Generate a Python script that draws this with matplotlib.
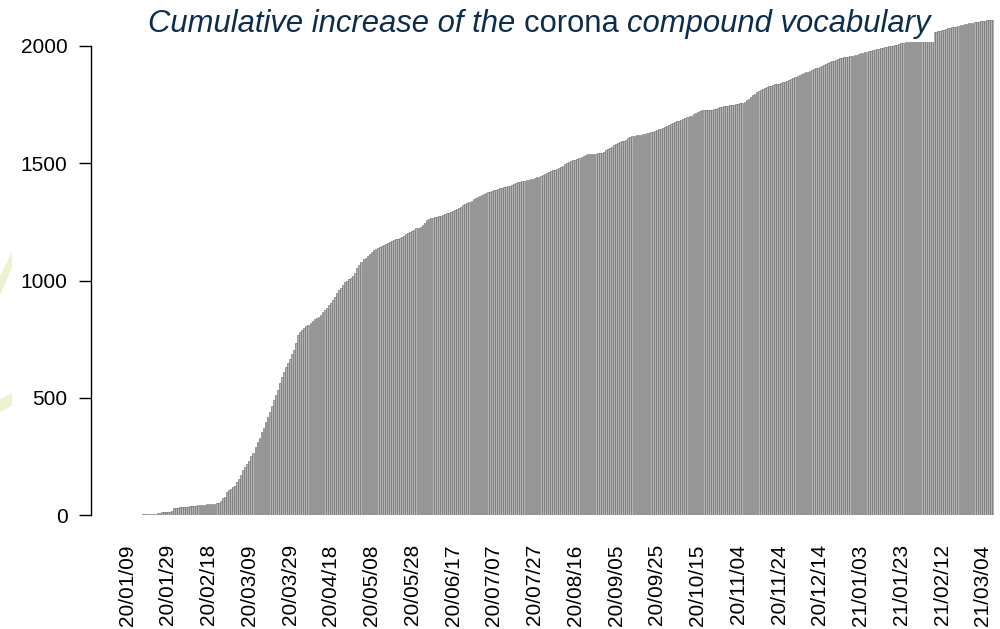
import matplotlib
matplotlib.use("Agg")
import matplotlib.pyplot as plt
from matplotlib.patches import Polygon
import numpy as np
import pandas as pd

plt.rcParams['font.family'] = ['Liberation Sans', 'DejaVu Sans']

# daily dates, first day of the series and the cumulative counts
start_date = '2020-01-09'
cumulative = [
    1, 1, 1, 1, 2, 2, 2, 2, 3, 3,
    3, 4, 4, 5, 5, 8, 10, 11, 12, 13,
    14, 15, 16, 30, 31, 32, 33, 33, 34, 35,
    36, 37, 38, 39, 40, 41, 42, 43, 44, 45,
    46, 47, 48, 49, 50, 52, 60, 72, 75, 100,
    105, 112, 118, 124, 140, 155, 170, 192, 205, 218,
    232, 250, 265, 290, 310, 330, 352, 372, 395, 418,
    440, 465, 490, 510, 535, 562, 590, 612, 630, 648,
    665, 685, 704, 735, 768, 780, 790, 797, 805, 812,
    820, 829, 835, 840, 846, 855, 865, 875, 882, 895,
    905, 917, 930, 945, 959, 970, 982, 992, 1000, 1006,
    1012, 1018, 1030, 1053, 1065, 1080, 1090, 1096, 1105, 1115,
    1123, 1128, 1135, 1140, 1144, 1148, 1152, 1156, 1160, 1165,
    1168, 1171, 1175, 1178, 1181, 1186, 1191, 1197, 1203, 1208,
    1212, 1217, 1222, 1226, 1229, 1235, 1245, 1258, 1262, 1265,
    1267, 1270, 1272, 1275, 1277, 1280, 1283, 1286, 1288, 1291,
    1295, 1300, 1305, 1309, 1314, 1320, 1326, 1332, 1336, 1341,
    1346, 1351, 1356, 1360, 1364, 1368, 1372, 1376, 1379, 1382,
    1385, 1388, 1391, 1394, 1396, 1398, 1400, 1402, 1403, 1406,
    1410, 1414, 1418, 1421, 1423, 1425, 1427, 1429, 1431, 1434,
    1437, 1440, 1443, 1447, 1451, 1455, 1459, 1464, 1467, 1470,
    1473, 1476, 1478, 1482, 1490, 1497, 1503, 1507, 1510, 1513,
    1516, 1519, 1521, 1526, 1532, 1537, 1539, 1540, 1540, 1541,
    1541, 1542, 1542, 1545, 1550, 1555, 1560, 1564, 1570, 1576,
    1581, 1585, 1589, 1593, 1596, 1599, 1606, 1613, 1615, 1617,
    1619, 1621, 1622, 1624, 1626, 1628, 1630, 1632, 1635, 1638,
    1641, 1644, 1647, 1651, 1655, 1659, 1663, 1667, 1671, 1675,
    1679, 1682, 1684, 1688, 1692, 1696, 1700, 1703, 1708, 1714,
    1719, 1724, 1725, 1725, 1726, 1726, 1727, 1728, 1730, 1733,
    1736, 1739, 1741, 1743, 1745, 1746, 1747, 1748, 1750, 1752,
    1754, 1756, 1758, 1762, 1768, 1775, 1784, 1790, 1796, 1802,
    1808, 1812, 1816, 1820, 1824, 1829, 1831, 1834, 1836, 1838,
    1840, 1842, 1845, 1848, 1851, 1855, 1858, 1862, 1866, 1870,
    1875, 1879, 1883, 1887, 1891, 1895, 1899, 1902, 1905, 1908,
    1911, 1914, 1918, 1922, 1926, 1930, 1934, 1937, 1941, 1944,
    1947, 1949, 1951, 1953, 1955, 1957, 1959, 1961, 1963, 1966,
    1969, 1971, 1973, 1975, 1978, 1980, 1982, 1984, 1986, 1988,
    1990, 1992, 1994, 1996, 1998, 2000, 2002, 2004, 2006, 2009,
    2011, 2013, 2015, 2017, 2019, 2021, 2023, 2024, 2025, 2026,
    2026, 2026, 2026, 2027, 2040, 2057, 2059, 2061, 2064, 2066,
    2068, 2070, 2073, 2075, 2077, 2079, 2081, 2083, 2085, 2088,
    2090, 2092, 2094, 2096, 2098, 2100, 2101, 2103, 2104, 2106,
    2107, 2108, 2109, 2110, 2111, 2112,
]
label_step = 20
y_ticks = [0, 500, 1000, 1500, 2000]

dates = pd.date_range(start_date, periods=len(cumulative), freq='D')
x = np.arange(len(cumulative))

fig = plt.figure(figsize=(10, 6.29), dpi=100)
ax = fig.add_axes([0.126, 0.1812, 0.868, 0.8016])

ax.bar(x, cumulative, width=0.85, color='#b4b4b4', edgecolor='#6e6e6e', linewidth=0.45)

ax.set_xlim(-0.5, len(cumulative) - 0.5)
ax.set_ylim(0, 2150)

# R-like axes: only a detached y axis, no box
for s in ['top', 'right', 'bottom']:
    ax.spines[s].set_visible(False)
ax.spines['left'].set_position(('outward', 25))
ax.spines['left'].set_bounds(0, 2000)
ax.spines['left'].set_linewidth(1.0)
ax.set_yticks(y_ticks)
ax.tick_params(axis='y', length=8.6, width=1.0, labelsize=15, pad=8.5)

ax.set_xticks(x[::label_step])
ax.set_xticklabels([d.strftime('%y/%m/%d') for d in dates[::label_step]], rotation=90)
ax.tick_params(axis='x', length=0, labelsize=15, pad=21)

# title: italic except the word corona, on a white box above the bars
title_color = '#0e2d4d'
title_size = 22.3
t1 = fig.text(0.148, 0.949, 'Cumulative increase of the ', fontsize=title_size, style='italic',
              color=title_color, va='baseline', ha='left',
              bbox=dict(fc='white', ec='none', pad=2))
t2 = fig.text(0, 0, 'corona ', fontsize=title_size, color=title_color,
              bbox=dict(fc='white', ec='none', pad=2))
t3 = fig.text(0, 0, 'compound vocabulary', fontsize=title_size, style='italic', color=title_color,
              bbox=dict(fc='white', ec='none', pad=2))
fig.canvas.draw()
r = fig.canvas.get_renderer()
for prev, cur in [(t1, t2), (t2, t3)]:
    bb = prev.get_window_extent(r)
    cur.set_position((bb.x1 / fig.bbox.width, 0.949))
    cur.set_va('baseline')
    fig.canvas.draw()

# faint logo remnants at the left edge
fig.patches.append(Polygon([[0, 0.53], [0.012, 0.575], [0.012, 0.60], [0, 0.56]],
                           closed=True, transform=fig.transFigure, fc='#eef0d2', ec='none'))
fig.patches.append(Polygon([[0, 0.345], [0.012, 0.355], [0.012, 0.375], [0, 0.365]],
                           closed=True, transform=fig.transFigure, fc='#eef0d2', ec='none'))

fig.savefig('out.png', dpi=100)
